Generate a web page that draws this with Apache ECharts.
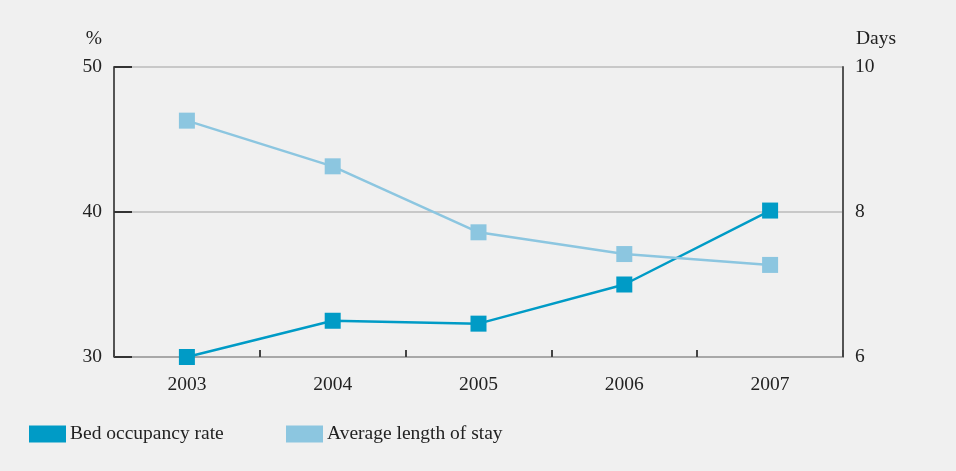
<!DOCTYPE html>
<html>
<head>
<meta charset="utf-8">
<script src="https://cdn.jsdelivr.net/npm/echarts@6/dist/echarts.min.js"></script>
<style>
html,body{margin:0;padding:0;background:#f0f0f0;}
#chart{width:956px;height:471px;}
</style>
</head>
<body>
<div id="chart"></div>
<script>
const years = ['2003','2004','2005','2006','2007'];
const bedOccupancy = [30.0, 32.5, 32.3, 35.0, 40.1];
const avgStay = [9.26, 8.63, 7.72, 7.42, 7.27];
const leftTicks = {min:30, max:50, interval:10};
const rightTicks = {min:6, max:10, interval:2};

const serif = '"Liberation Serif", serif';
const c1 = '#009bc6', c2 = '#8cc6e0';
const fs = 19.5;
const chart = echarts.init(document.getElementById('chart'));
chart.setOption({
  backgroundColor:'#f0f0f0',
  animation:false,
  grid:{left:114,right:113,top:67,bottom:114},
  legend:[
    {left:24, top:419, icon:'rect', itemWidth:37, itemHeight:17, itemGap:0,
     textStyle:{fontFamily:serif, fontSize:fs, color:'#222', padding:[0,0,0,-1]},
     data:['Bed occupancy rate']},
    {left:281, top:419, icon:'rect', itemWidth:37, itemHeight:17, itemGap:0,
     textStyle:{fontFamily:serif, fontSize:fs, color:'#222', padding:[0,0,0,-1]},
     data:['Average length of stay']}
  ],
  xAxis:{type:'category', data:years, boundaryGap:true,
    axisLine:{lineStyle:{color:'#a8a8a8', width:2}},
    axisTick:{show:true, inside:true, length:7, lineStyle:{color:'#444', width:2}},
    axisLabel:{margin:18, fontFamily:serif, fontSize:fs, color:'#222'}},
  yAxis:[
    {type:'value', position:'left', min:leftTicks.min, max:leftTicks.max, interval:leftTicks.interval,
     name:'%', nameLocation:'end', nameGap:18,
     nameTextStyle:{fontFamily:serif, fontSize:fs, color:'#222', align:'right', padding:[0,12,0,0]},
     axisLine:{show:true, lineStyle:{color:'#555', width:2}},
     axisTick:{show:true, inside:true, length:18, lineStyle:{color:'#333', width:2}},
     splitLine:{show:true, lineStyle:{color:'#c8c8c8', width:2}},
     axisLabel:{margin:12, fontFamily:serif, fontSize:fs, color:'#222'}},
    {type:'value', position:'right', min:rightTicks.min, max:rightTicks.max, interval:rightTicks.interval,
     name:'Days', nameLocation:'end', nameGap:18,
     nameTextStyle:{fontFamily:serif, fontSize:fs, color:'#222', align:'left', padding:[0,0,0,13]},
     axisLine:{show:true, lineStyle:{color:'#555', width:2}},
     axisTick:{show:false},
     splitLine:{show:false},
     axisLabel:{margin:12, fontFamily:serif, fontSize:fs, color:'#222'}}
  ],
  series:[
    {name:'Bed occupancy rate', type:'line', yAxisIndex:0, data:bedOccupancy,
     symbol:'rect', symbolSize:16, color:c1, lineStyle:{color:c1, width:2.5}, itemStyle:{color:c1}},
    {name:'Average length of stay', type:'line', yAxisIndex:1, data:avgStay,
     symbol:'rect', symbolSize:16, color:c2, lineStyle:{color:c2, width:2.5}, itemStyle:{color:c2}}
  ]
});
</script>
</body>
</html>
